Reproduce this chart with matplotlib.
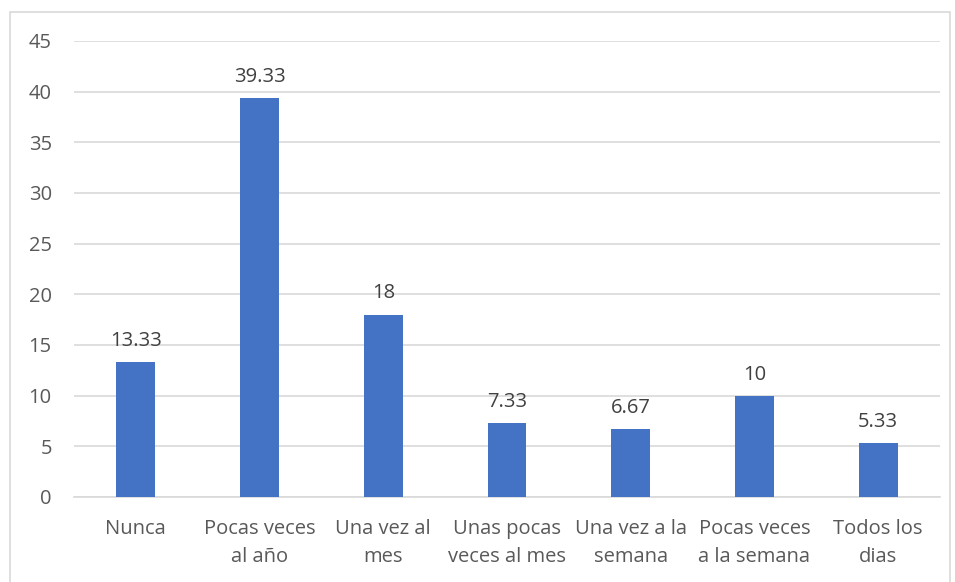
import matplotlib
matplotlib.use("Agg")
import matplotlib.pyplot as plt
from matplotlib.patches import Rectangle

categories = ["Nunca", "Pocas veces\nal año", "Una vez al\nmes", "Unas pocas\nveces al mes",
              "Una vez a la\nsemana", "Pocas veces\na la semana", "Todos los\ndias"]
values = [13.33, 39.33, 18, 7.33, 6.67, 10, 5.33]
value_labels = ["13.33", "39.33", "18", "7.33", "6.67", "10", "5.33"]
yticks = [0, 5, 10, 15, 20, 25, 30, 35, 40, 45]

plt.rcParams['font.family'] = ['Open Sans', 'DejaVu Sans']

fig = plt.figure(figsize=(9.55, 5.82), dpi=100)
W, H = 955, 582
ax = fig.add_axes([74 / W, 1 - 497 / H, (940 - 74) / W, (497 - 41) / H])

x = list(range(len(categories)))
bars = ax.bar(x, values, width=0.315, color="#4472C4", zorder=3)
ax.set_xlim(-0.5, len(categories) - 0.5)
ax.set_ylim(0, 45)
ax.set_yticks(yticks)
ax.set_yticklabels([str(t) for t in yticks], fontsize=14.5, color="#595959")
ax.set_xticks(x)
ax.set_xticklabels(categories, fontsize=14.5, color="#595959", linespacing=1.55)
ax.tick_params(axis="both", length=0)
ax.tick_params(axis="y", pad=16)
ax.tick_params(axis="x", pad=16)
ax.grid(axis="y", color="#D9D9D9", linewidth=1.2, zorder=0)
for s in ["top", "right", "left"]:
    ax.spines[s].set_visible(False)
ax.spines["bottom"].set_color("#D9D9D9")
ax.spines["bottom"].set_linewidth(1.2)

for xi, v, lab in zip(x, values, value_labels):
    ax.annotate(lab, (xi, v), xytext=(0, 8), textcoords="offset points",
                ha="center", va="bottom", fontsize=14.5, color="#404040")

fig.patches.append(Rectangle((10 / W, -0.01), (950 - 10) / W, 1 - 12 / H + 0.01,
                             transform=fig.transFigure, fill=False,
                             edgecolor="#D9D9D9", linewidth=1.2))

fig.savefig("out.png", dpi=100)
